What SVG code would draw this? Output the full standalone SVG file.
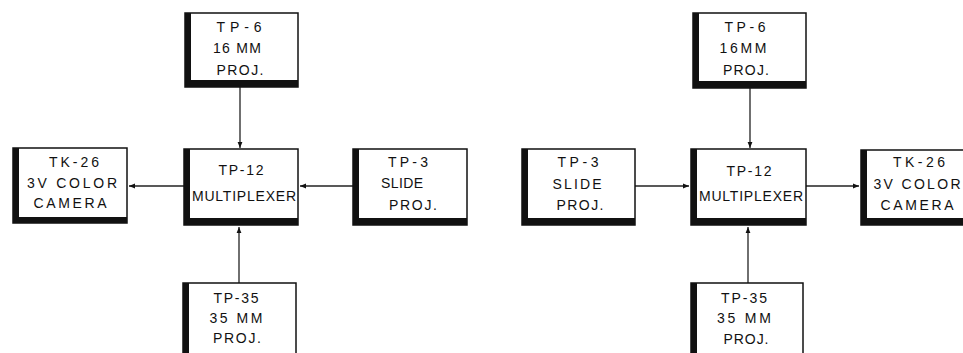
<svg xmlns="http://www.w3.org/2000/svg" width="963" height="353" viewBox="0 0 963 353">
<defs>
<style>
.frame{fill:#fff;stroke:#111;stroke-width:1.5}
.thick{fill:#111}
.lbl{font-family:"Liberation Sans",Arial,sans-serif;font-size:14px;fill:#111;text-anchor:middle}
.wire{stroke:#222;stroke-width:1.3;fill:none}
</style>
<marker id="ah" viewBox="0 0 10 10" refX="10" refY="5" markerWidth="7" markerHeight="6" markerUnits="userSpaceOnUse" orient="auto">
<path d="M0,1 L10,5 L0,9 Z" fill="#111"/>
</marker>
</defs>
<rect width="963" height="353" fill="#fff"/>

<g id="connectors">
<line class="wire" x1="240" y1="87" x2="240" y2="148" marker-end="url(#ah)"/>
<line class="wire" x1="184" y1="186" x2="129" y2="186" marker-end="url(#ah)"/>
<line class="wire" x1="353" y1="186" x2="300" y2="186" marker-end="url(#ah)"/>
<line class="wire" x1="239" y1="283" x2="239" y2="227" marker-end="url(#ah)"/>
<line class="wire" x1="750" y1="88" x2="750" y2="148" marker-end="url(#ah)"/>
<line class="wire" x1="635" y1="186" x2="689" y2="186" marker-end="url(#ah)"/>
<line class="wire" x1="806" y1="186" x2="859" y2="186" marker-end="url(#ah)"/>
<line class="wire" x1="748" y1="283" x2="748" y2="227" marker-end="url(#ah)"/>
</g>

<g id="L-TP6">
<rect class="frame" x="185" y="13" width="113" height="74"/>
<rect class="thick" x="185" y="13" width="6" height="74"/>
<rect class="thick" x="185" y="80" width="113" height="7"/>
<text class="lbl" x="239" y="32" textLength="45" lengthAdjust="spacing">TP-6</text>
<text class="lbl" x="237" y="53" textLength="48" lengthAdjust="spacing">16 MM</text>
<text class="lbl" x="240" y="75" textLength="47" lengthAdjust="spacing">PROJ.</text>
</g>

<g id="L-TK26">
<rect class="frame" x="13" y="148" width="114" height="75"/>
<rect class="thick" x="13" y="148" width="6" height="75"/>
<rect class="thick" x="13" y="217" width="114" height="6"/>
<text class="lbl" x="74" y="167" textLength="50" lengthAdjust="spacing">TK-26</text>
<text class="lbl" x="72" y="188" textLength="90" lengthAdjust="spacing">3V COLOR</text>
<text class="lbl" x="70" y="208" textLength="73" lengthAdjust="spacing">CAMERA</text>
</g>

<g id="L-TP12">
<rect class="frame" x="184" y="149" width="114" height="76"/>
<rect class="thick" x="184" y="149" width="6" height="76"/>
<rect class="thick" x="184" y="218" width="114" height="7"/>
<text class="lbl" x="241" y="175" textLength="45" lengthAdjust="spacing">TP-12</text>
<text class="lbl" x="244" y="201" textLength="104" lengthAdjust="spacing">MULTIPLEXER</text>
</g>

<g id="L-TP3">
<rect class="frame" x="353" y="149" width="114" height="76"/>
<rect class="thick" x="353" y="149" width="6" height="76"/>
<rect class="thick" x="353" y="218" width="114" height="7"/>
<text class="lbl" x="408" y="167" textLength="40" lengthAdjust="spacing">TP-3</text>
<text class="lbl" x="402" y="188" textLength="42" lengthAdjust="spacing">SLIDE</text>
<text class="lbl" x="413" y="210" textLength="48" lengthAdjust="spacing">PROJ.</text>
</g>

<g id="L-TP35">
<rect class="frame" x="183" y="283" width="113" height="76"/>
<rect class="thick" x="183" y="283" width="6" height="76"/>
<text class="lbl" x="236" y="303" textLength="45" lengthAdjust="spacing">TP-35</text>
<text class="lbl" x="236" y="323" textLength="53" lengthAdjust="spacing">35 MM</text>
<text class="lbl" x="237" y="343" textLength="48" lengthAdjust="spacing">PROJ.</text>
</g>

<g id="R-TP6">
<rect class="frame" x="693" y="13" width="113" height="75"/>
<rect class="thick" x="693" y="13" width="6" height="75"/>
<rect class="thick" x="693" y="81" width="113" height="7"/>
<text class="lbl" x="745" y="32" textLength="41" lengthAdjust="spacing">TP-6</text>
<text class="lbl" x="743" y="53" textLength="47" lengthAdjust="spacing">16MM</text>
<text class="lbl" x="746" y="75" textLength="46" lengthAdjust="spacing">PROJ.</text>
</g>

<g id="R-TP3">
<rect class="frame" x="522" y="149" width="113" height="76"/>
<rect class="thick" x="522" y="149" width="6" height="76"/>
<rect class="thick" x="522" y="218" width="113" height="7"/>
<text class="lbl" x="578" y="167" textLength="41" lengthAdjust="spacing">TP-3</text>
<text class="lbl" x="577" y="189" textLength="49" lengthAdjust="spacing">SLIDE</text>
<text class="lbl" x="580" y="210" textLength="47" lengthAdjust="spacing">PROJ.</text>
</g>

<g id="R-TP12">
<rect class="frame" x="691" y="149" width="115" height="76"/>
<rect class="thick" x="691" y="149" width="6" height="76"/>
<rect class="thick" x="691" y="218" width="115" height="7"/>
<text class="lbl" x="749" y="176" textLength="45" lengthAdjust="spacing">TP-12</text>
<text class="lbl" x="751" y="201" textLength="104" lengthAdjust="spacing">MULTIPLEXER</text>
</g>

<g id="R-TK26">
<rect class="frame" x="861" y="150" width="115" height="75"/>
<rect class="thick" x="861" y="150" width="6" height="75"/>
<rect class="thick" x="861" y="218" width="115" height="7"/>
<text class="lbl" x="919" y="167" textLength="52" lengthAdjust="spacing">TK-26</text>
<text class="lbl" x="917" y="189" textLength="87" lengthAdjust="spacing">3V COLOR</text>
<text class="lbl" x="917" y="210" textLength="73" lengthAdjust="spacing">CAMERA</text>
</g>

<g id="R-TP35">
<rect class="frame" x="691" y="283" width="112" height="76"/>
<rect class="thick" x="691" y="283" width="6" height="76"/>
<text class="lbl" x="744" y="303" textLength="46" lengthAdjust="spacing">TP-35</text>
<text class="lbl" x="744" y="323" textLength="54" lengthAdjust="spacing">35 MM</text>
<text class="lbl" x="746" y="344" textLength="45" lengthAdjust="spacing">PROJ.</text>
</g>
</svg>
